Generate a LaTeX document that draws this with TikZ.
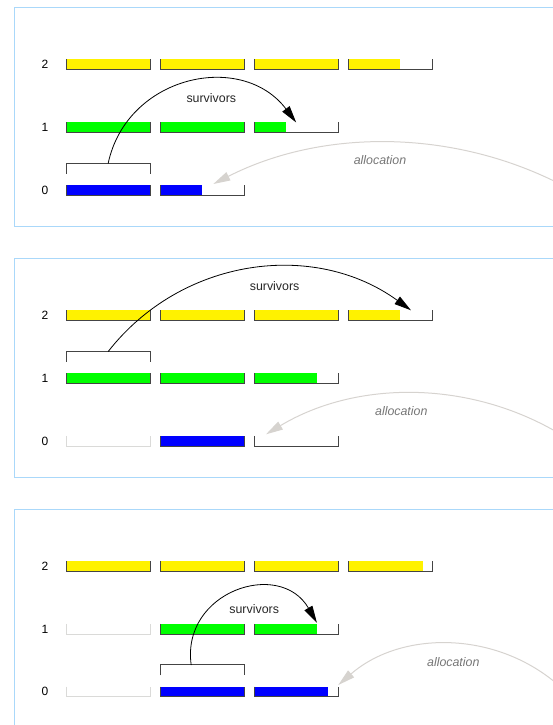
\documentclass[tikz,border=0pt]{standalone}
\usepackage{fontspec}
\setmainfont{Liberation Sans}
\usetikzlibrary{calc,arrows.meta}

\definecolor{frameblue}{RGB}{170,216,250}
\definecolor{segedge}{RGB}{68,68,68}
\definecolor{segfree}{RGB}{218,218,216}
\definecolor{allocgrey}{RGB}{214,211,207}
\definecolor{alloctext}{RGB}{118,118,118}

\begin{document}
\begin{tikzpicture}[x=1pt, y=1pt,
  seg/.style={minimum width=84.3pt, minimum height=10.3pt, inner sep=0pt, outer sep=0pt},
  segline/.style={draw=segedge, line width=1pt},
  freeline/.style={draw=segfree, line width=1pt},
  frame/.style={draw=frameblue, line width=1pt},
  survive/.style={draw=black, line width=0.8pt, -{Triangle[length=17pt,width=9pt]}},
  alloc/.style={draw=allocgrey, line width=1pt, -{Triangle[length=17pt,width=9pt]}},
  gen/.style={font=\fontsize{12}{14}\selectfont},
  survlabel/.style={font=\fontsize{12.4}{14}\selectfont, text=black!85},
  alloclabel/.style={font=\fontsize{12.4}{14}\selectfont\itshape, text=alloctext}]

\def \xlabel {45};
\def \xa {108.15};
\def \xb {202.15};
\def \xc {296.15};
\def \xd {390.15};

\def \ytwo  {-64.6};
\def \yone  {-127.6};
\def \yzero {-190.3};
\def \ybrone  {-105.9};
\def \ybrzero {-168.6};

% bucket: name, x, y, fill colour, filled part
\def \seg #1#2#3#4#5{
  \node [seg] (#1) at (#2, #3) {};
  \fill [#4] (#1.north west) rectangle ($(#1.south west)!#5!(#1.south east)$);
  \draw [segline] (#1.north west) -- (#1.south west) -- (#1.south east) -- (#1.north east);
}
\def \freeseg #1#2#3{
  \node [seg] (#1) at (#2, #3) {};
  \draw [freeline] (#1.north west) -- (#1.south west) -- (#1.south east) -- (#1.north east);
}
\def \bracket #1#2#3{
  \node [seg] (#1) at (#2, #3) {};
  \draw [segline] (#1.south west) -- (#1.north west) -- (#1.north east) -- (#1.south east);
}

\useasboundingbox (0, 0) rectangle (552, -725);

% first collection
\draw [frame] (14.1, -7.5) rectangle (600, -226.5);

\node [gen] (Ag2) at (\xlabel, \ytwo)  {2};
\node [gen] (Ag1) at (\xlabel, \yone)  {1};
\node [gen] (Ag0) at (\xlabel, \yzero) {0};

\seg{A21}{\xa}{\ytwo}{yellow}{1}
\seg{A22}{\xb}{\ytwo}{yellow}{1}
\seg{A23}{\xc}{\ytwo}{yellow}{1}
\seg{A24}{\xd}{\ytwo}{yellow}{0.617}
\seg{A11}{\xa}{\yone}{green}{1}
\seg{A12}{\xb}{\yone}{green}{1}
\seg{A13}{\xc}{\yone}{green}{0.378}
\seg{A01}{\xa}{\yzero}{blue}{1}
\seg{A02}{\xb}{\yzero}{blue}{0.495}
\bracket{Abr}{\xa}{\ybrzero}

\coordinate (Aa)  at (560, -184);
\coordinate (Aat) at (213.3, -184);
\draw [alloc] (Aa) to [bend right=27, looseness=0.9] (Aat);
\node [alloclabel] (Aal) at (380, -160) {allocation};

\draw [survive] (Abr.north) to [out=78, in=127, looseness=1.2] (A13.north);
\node [survlabel] (Asl) at (211.3, -97.7) {survivors};

% second collection
\begin{scope}[yshift=-250.8pt]
\draw [frame] (14.1, -7.5) rectangle (600, -226.5);

\node [gen] (Bg2) at (\xlabel, \ytwo)  {2};
\node [gen] (Bg1) at (\xlabel, \yone)  {1};
\node [gen] (Bg0) at (\xlabel, \yzero) {0};

\seg{B21}{\xa}{\ytwo}{yellow}{1}
\seg{B22}{\xb}{\ytwo}{yellow}{1}
\seg{B23}{\xc}{\ytwo}{yellow}{1}
\seg{B24}{\xd}{\ytwo}{yellow}{0.617}
\seg{B11}{\xa}{\yone}{green}{1}
\seg{B12}{\xb}{\yone}{green}{1}
\seg{B13}{\xc}{\yone}{green}{0.746}
\freeseg{B01}{\xa}{\yzero}
\seg{B02}{\xb}{\yzero}{blue}{1}
\seg{B03}{\xc}{\yzero}{white}{0}
\bracket{Bbr}{\xa}{\ybrone}

\coordinate (Ba)  at (560.6, -183.5);
\coordinate (Bat) at (266, -183.5);
\draw [alloc] (Ba) to [bend right=31, looseness=0.92] (Bat);
\node [alloclabel] (Bal) at (401.3, -159.9) {allocation};

\coordinate (Bt) at (411, -59.5);
\draw [survive] (Bbr.north) to [out=52, in=144, looseness=1] (Bt);
\node [survlabel] (Bsl) at (274.6, -34.9) {survivors};
\end{scope}

% third collection
\begin{scope}[yshift=-501.5pt]
\draw [frame] (14.1, -7.5) rectangle (600, -226.5);

\node [gen] (Cg2) at (\xlabel, \ytwo)  {2};
\node [gen] (Cg1) at (\xlabel, \yone)  {1};
\node [gen] (Cg0) at (\xlabel, \yzero) {0};

\seg{C21}{\xa}{\ytwo}{yellow}{1}
\seg{C22}{\xb}{\ytwo}{yellow}{1}
\seg{C23}{\xc}{\ytwo}{yellow}{1}
\seg{C24}{\xd}{\ytwo}{yellow}{0.884}
\freeseg{C11}{\xa}{\yone}
\seg{C12}{\xb}{\yone}{green}{1}
\seg{C13}{\xc}{\yone}{green}{0.746}
\freeseg{C01}{\xa}{\yzero}
\seg{C02}{\xb}{\yzero}{blue}{1}
\seg{C03}{\xc}{\yzero}{blue}{0.88}
\bracket{Cbr}{\xb}{\ybrzero}

\coordinate (Ca)  at (558.3, -183.5);
\coordinate (Cat) at (338.3, -183.5);
\draw [alloc] (Ca) to [bend right=41, looseness=0.97] (Cat);
\node [alloclabel] (Cal) at (453.3, -160.2) {allocation};

\coordinate (Cs) at (191.2, -163.5);
\coordinate (Ct) at (316.9, -121.2);
\draw [survive] (Cs) to [out=98, in=120, looseness=1.43] (Ct);
\node [survlabel] (Csl) at (254.2, -107.5) {survivors};
\end{scope}

\end{tikzpicture}
\end{document}
